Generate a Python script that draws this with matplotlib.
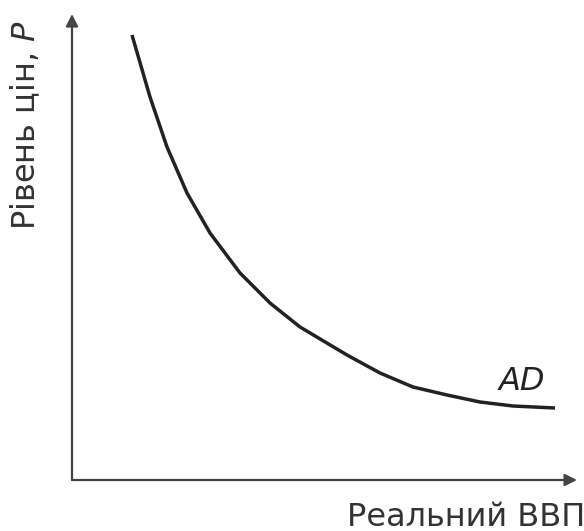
import matplotlib.pyplot as plt

# AD curve (origin at the axes corner)
gdp = [0.60, 0.78, 0.95, 1.15, 1.38, 1.68, 1.98, 2.28, 2.75, 3.08, 3.41, 3.75, 4.08, 4.41, 4.83]
price = [4.45, 3.83, 3.33, 2.87, 2.47, 2.07, 1.77, 1.53, 1.25, 1.07, 0.93, 0.85, 0.78, 0.74, 0.72]

x_label = 'Реальний ВВП'
y_label = 'Рівень цін, $\\mathit{P}$'
curve_label = 'AD'

ink = '#222222'
axis_ink = '#444444'
text_ink = '#333333'

fig = plt.figure(figsize=(5.84, 5.31), dpi=100)
ax = fig.add_axes([0, 0, 1, 1])
ax.set_xlim(-0.72, 5.12)
ax.set_ylim(-0.51, 4.80)
ax.axis('off')

# axes with arrow heads
arrow = dict(arrowstyle='-|>', color=axis_ink, lw=1.6, mutation_scale=18, shrinkA=0, shrinkB=0)
ax.annotate('', xy=(5.05, 0), xytext=(0, 0), arrowprops=arrow)
ax.annotate('', xy=(0, 4.66), xytext=(0, 0), arrowprops=arrow)

ax.plot(gdp, price, color=ink, lw=2.5, solid_capstyle='butt', solid_joinstyle='round')

ax.text(4.27, 0.90, curve_label, fontsize=23, style='italic', color=ink)
ax.text(5.13, -0.37, x_label, fontsize=23, color=text_ink, ha='right', va='center')
ax.text(-0.46, 3.55, y_label, fontsize=23, color=text_ink,
        rotation=90, ha='center', va='center')

fig.savefig('out.png', dpi=100)
